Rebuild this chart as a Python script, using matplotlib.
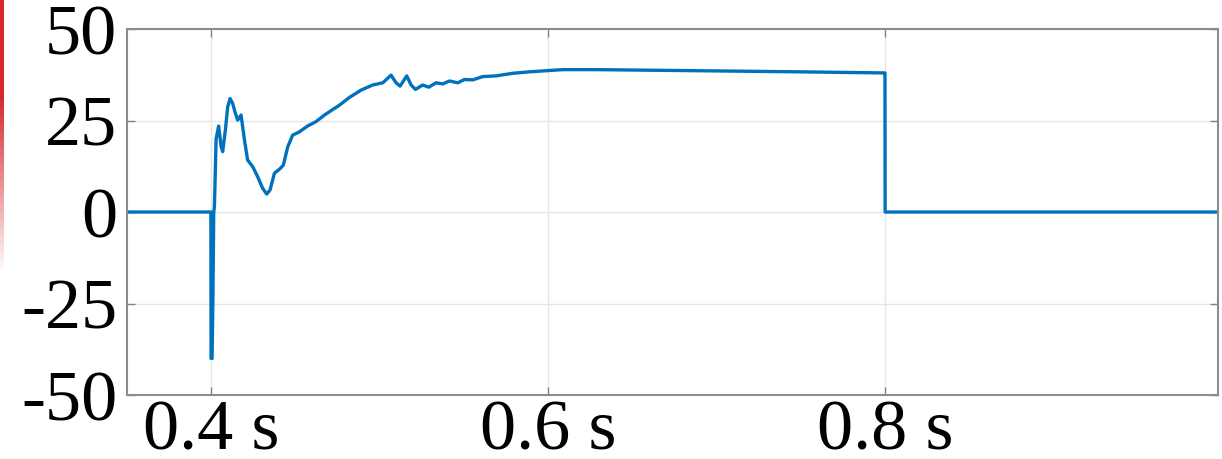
import matplotlib
matplotlib.use('Agg')
import matplotlib.pyplot as plt
import numpy as np

# time (s) and current
t = [0.35, 0.4, 0.4001, 0.4007, 0.4012, 0.4017, 0.4021, 0.4031, 0.4046, 0.4061,
     0.4070, 0.4086, 0.4100, 0.4114, 0.4129, 0.4145, 0.4159, 0.4179, 0.4199,
     0.4218, 0.4248, 0.4278, 0.4307, 0.4331, 0.4351, 0.4377, 0.4407, 0.4430,
     0.4456, 0.4485, 0.4525, 0.4574, 0.4624, 0.4674, 0.4723, 0.4763, 0.4822,
     0.4891, 0.4960, 0.5020, 0.5069, 0.5099, 0.5123, 0.5162, 0.5188, 0.5214,
     0.5257, 0.5293, 0.5336, 0.5376, 0.5415, 0.5465, 0.5504, 0.5554, 0.5613,
     0.5693, 0.5791, 0.5890, 0.5989, 0.6088, 0.6286, 0.6484, 0.6899, 0.7493,
     0.7997, 0.8, 0.8001, 1.0]
i_val = [0, 0, -40, -40, -23.5, 0, 1.5, 20, 23.5, 17.8,
         16.5, 22.4, 28.8, 31, 29.7, 27, 25.1, 26.5, 19.7,
         14.2, 12.4, 9.6, 6.5, 4.9, 6, 10.6, 11.7, 12.8,
         17.8, 21, 21.9, 23.5, 24.7, 26.5, 28, 29.2, 31.3,
         33.3, 34.7, 35.3, 37.4, 35.3, 34.4, 37.2, 34.7, 33.5,
         34.7, 34.1, 35.3, 35, 35.8, 35.3, 36.2, 36.1, 37,
         37.2, 37.9, 38.3, 38.6, 38.9, 38.9, 38.8, 38.6, 38.3,
         38.0, 38.0, 0, 0]

x_ticks = [0.4, 0.6, 0.8]
x_labels = ['0.4 s', '0.6 s', '0.8 s']
y_ticks = [-50, -25, 0, 25, 50]
y_labels = ['-50', '-25', '0', '25', '50']

serif = ['Liberation Serif', 'DejaVu Serif']

fig = plt.figure(figsize=(12.22, 4.59), dpi=100)
ax = fig.add_axes([0.1039, 0.1394, 0.8928, 0.7974])

ax.plot(t, i_val, color='#0072BD', linewidth=2.4)

ax.set_xlim(0.3502, 0.9976)
ax.set_ylim(-50, 50)
ax.set_xticks(x_ticks)
ax.set_xticklabels(x_labels, fontfamily=serif, fontsize=52)
ax.set_yticks(y_ticks)
ax.set_yticklabels(y_labels, fontfamily=serif, fontsize=52)
ax.tick_params(direction='in', length=6, width=1, color='#808080',
               right=True, top=True)
ax.tick_params(axis='y', pad=7)
ax.tick_params(axis='x', pad=3)
ax.grid(color='#e6e6e6', linestyle='-', linewidth=1)
for s in ax.spines.values():
    s.set_color('#8c8c8c')
    s.set_linewidth(1.5)

# cut-off panel label at the top edge
fig.text(0.756, 1.034, '(b)', fontfamily=serif, fontsize=52,
         ha='left', va='baseline')

# red strip on the left edge, fading downwards
strip = fig.add_axes([0, 0.40, 0.0025, 0.60])
grad = np.zeros((100, 1, 4))
grad[:, 0, 0] = 0.84
grad[:, 0, 1] = 0.16
grad[:, 0, 2] = 0.18
grad[:, 0, 3] = np.concatenate([np.ones(35), np.linspace(1, 0, 65)])
strip.imshow(grad, aspect='auto', extent=[0, 1, 0, 1])
strip.axis('off')

fig.savefig('out.png', dpi=100)
